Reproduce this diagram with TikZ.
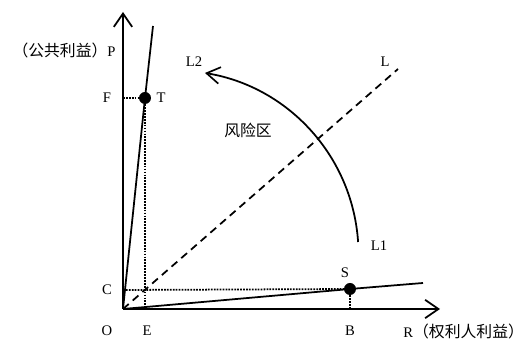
\documentclass[tikz,border=0pt]{standalone}
\usepackage{fontspec}
\setmainfont{Liberation Serif}
\newfontfamily\cjk{Noto Sans CJK SC}
\usepackage{tikz}
\usetikzlibrary{arrows.meta, calc}

\begin{document}
\begin{tikzpicture}[x=0.03cm, y=0.03cm,
        axis/.style={line width=1.6pt, -{Straight Barb[length=4mm, width=5.5mm, line width=1.5pt]}},
        ray/.style={line width=1.5pt},
        guide/.style={densely dotted, line width=1.5pt},
        pt/.style={circle, fill=black, inner sep=0pt, minimum size=3.6mm},
        lab/.style={font=\fontsize{12.5}{14}\selectfont, inner sep=1pt},
        zh/.style={font=\fontsize{13.5}{15}\cjk, inner sep=1pt}
    ]
    \useasboundingbox (-123,-31) rectangle (402,309);

    % --- axes ---
    \coordinate (O) at (0,0);
    \coordinate (Ptop) at (0,297);
    \coordinate (Rend) at (317,0);
    \draw[axis] (O) -- (Ptop);
    \draw[axis] (O) -- (Rend);

    % --- points T and S ---
    \node[pt] (T) at (22,211) {};
    \node[pt] (S) at (227,20) {};
    \coordinate (Ttop) at (30,283);
    \coordinate (Send) at (300,26);
    \draw[ray] (O) -- (T.center) -- (Ttop);
    \draw[ray] (O) -- (S.center) -- (Send);

    % --- dotted guides ---
    \coordinate (F) at (0,211);
    \coordinate (E) at (22,0);
    \coordinate (C) at (0,19);
    \coordinate (B) at (227,0);
    \draw[guide] (F) -- (T);
    \draw[guide] (T) -- (E);
    \draw[guide] (C) -- (S);
    \draw[guide] (S) -- (B);

    % --- line L ---
    \coordinate (Lend) at (275,240);
    \draw[ray, dash pattern=on 6.5pt off 4.5pt] (O) -- (Lend);

    % --- arc L1 -> L2 ---
    \coordinate (L1) at ($(52,55)+(3.75:183.5)$);
    \draw[line width=1.5pt, -{Straight Barb[length=4mm, width=5mm, line width=1.4pt]}]
        (L1) arc[start angle=3.75, end angle=80.6, radius=183.5];

    % --- labels ---
    \node[lab, anchor=east] (Plab) at (-6,259) {{\fontsize{13.5}{15}\cjk （公共利益）}P};
    \node[lab, anchor=west] (Rlab) at (279,-22) {R{\fontsize{13.5}{15}\cjk （权利人利益）}};
    \node[lab] (Olab) at (-16,-22) {O};
    \node[lab] (Elab) at (24,-22) {E};
    \node[lab] (Blab) at (227,-22) {B};
    \node[lab] (Flab) at (-16,211) {F};
    \node[lab] (Clab) at (-16,19) {C};
    \node[lab] (Tlab) at (38,211) {T};
    \node[lab] (Slab) at (222,36) {S};
    \node[lab] (Llab) at (262,247) {L};
    \node[lab] (L2lab) at (71,247) {L2};
    \node[lab] (L1lab) at (256,63) {L1};
    \node[zh] (risk) at (125,179) {风险区};

\end{tikzpicture}
\end{document}
